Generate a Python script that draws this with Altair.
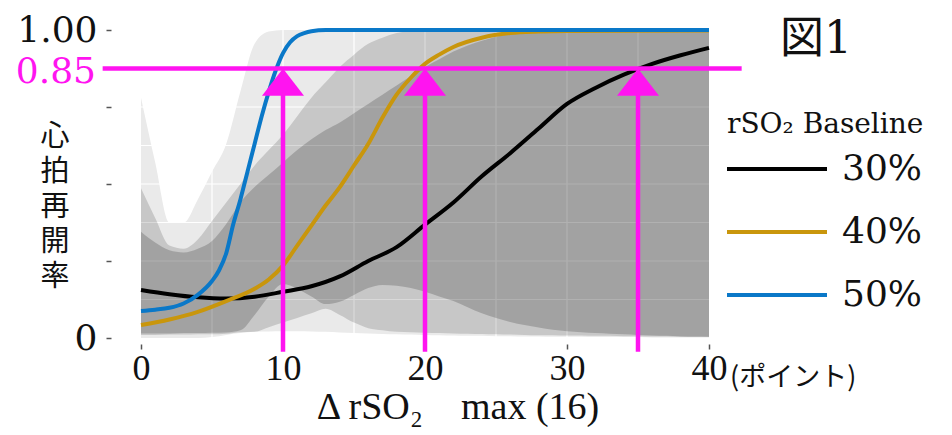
import altair as alt
import pandas as pd
import numpy as np

# ---------------- data ----------------
SERIES = ["30%", "40%", "50%"]
COLORS = ["#000000", "#C9960C", "#0A78C8"]

X_30 = [0, 2, 4, 6, 8, 10, 12, 14, 16, 18, 20, 22, 24, 26, 28, 30, 32, 34, 36, 38, 40]
Y_30 = [0.156, 0.142, 0.132, 0.128, 0.134, 0.150, 0.168, 0.200, 0.250, 0.295, 0.368, 0.440, 0.525,
        0.600, 0.680, 0.760, 0.812, 0.855, 0.890, 0.918, 0.942]
X_40 = [0, 2, 4, 6, 8, 9, 10, 11, 12, 13, 14, 15, 16, 17, 18, 19, 20, 21, 22, 24, 26, 28, 30, 40]
Y_40 = [0.042, 0.060, 0.085, 0.120, 0.160, 0.190, 0.235, 0.300, 0.365, 0.430, 0.490, 0.560, 0.630,
        0.715, 0.790, 0.845, 0.890, 0.920, 0.945, 0.975, 0.990, 0.995, 0.997, 0.998]
X_50 = [0, 1, 2, 3, 4, 5, 5.5, 6, 6.5, 7, 7.5, 8, 8.5, 9, 9.5, 10, 10.5, 11, 11.5, 12, 13, 14, 20, 30, 40]
Y_50 = [0.088, 0.092, 0.098, 0.112, 0.140, 0.185, 0.220, 0.275, 0.370, 0.450, 0.540, 0.630, 0.720,
        0.800, 0.870, 0.925, 0.960, 0.980, 0.990, 0.996, 1.0, 1.0, 1.0, 1.0, 1.0]

# confidence bands, read at x = 0..40
X_BAND = [0, 1, 2, 3, 4, 5, 6, 7, 8, 9, 10, 11, 12, 13, 14, 15, 16, 17, 18, 19, 20,
          21, 22, 23, 24, 25, 26, 27, 28, 29, 30, 31, 32, 33, 34, 35, 36, 37, 38, 39, 40]
UB_50 = [0.78, 0.57, 0.375, 0.375, 0.45, 0.54, 0.63, 0.80, 0.955, 0.995, 1.0, 1.0, 1.0, 1.0, 1.0, 1.0,
         1.0, 1.0, 1.0, 1.0, 1.0, 1.0, 1.0, 1.0, 1.0, 1.0, 1.0, 1.0, 1.0, 1.0, 1.0, 1.0, 1.0, 1.0, 1.0,
         1.0, 1.0, 1.0, 1.0, 1.0, 1.0]
LB_50 = [0.0, 0.0, 0.0, 0.0, 0.0, 0.003, 0.01, 0.025, 0.075, 0.135, 0.175, 0.16, 0.135, 0.11, 0.075,
         0.05, 0.032, 0.025, 0.02, 0.019, 0.017, 0.016, 0.015, 0.014, 0.013, 0.012, 0.011, 0.010, 0.009,
         0.009, 0.008, 0.008, 0.007, 0.007, 0.006, 0.006, 0.005, 0.005, 0.004, 0.004, 0.004]
UB_40 = [0.486, 0.39, 0.30, 0.29, 0.32, 0.38, 0.44, 0.50, 0.56, 0.61, 0.66, 0.72, 0.78, 0.83, 0.88, 0.92,
         0.955, 0.975, 0.99, 0.997, 1.0, 1.0, 1.0, 1.0, 1.0, 1.0, 1.0, 1.0, 1.0, 1.0, 1.0, 1.0, 1.0, 1.0,
         1.0, 1.0, 1.0, 1.0, 1.0, 1.0, 1.0]
LB_40 = [0.01, 0.01, 0.011, 0.011, 0.012, 0.012, 0.014, 0.016, 0.02, 0.035, 0.05, 0.065, 0.08, 0.095,
         0.118, 0.14, 0.162, 0.172, 0.17, 0.162, 0.15, 0.135, 0.12, 0.10, 0.08, 0.065, 0.052, 0.042,
         0.034, 0.027, 0.022, 0.019, 0.016, 0.014, 0.012, 0.01, 0.008, 0.007, 0.005, 0.004, 0.003]
UB_30 = [0.345, 0.31, 0.285, 0.278, 0.29, 0.315, 0.37, 0.44, 0.49, 0.53, 0.57, 0.61, 0.645, 0.675, 0.70,
         0.73, 0.76, 0.79, 0.82, 0.85, 0.88, 0.905, 0.93, 0.95, 0.965, 0.978, 0.988, 0.995, 1.0, 1.0,
         1.0, 1.0, 1.0, 1.0, 1.0, 1.0, 1.0, 1.0, 1.0, 1.0, 1.0]
LB_30 = [0.015, 0.015, 0.015, 0.016, 0.016, 0.017, 0.018, 0.019, 0.02, 0.021, 0.022, 0.022, 0.021,
         0.02, 0.018, 0.016, 0.015, 0.013, 0.012, 0.011, 0.01, 0.009, 0.008, 0.007, 0.007, 0.006,
         0.006, 0.005, 0.005, 0.004, 0.004, 0.004, 0.003, 0.003, 0.003, 0.003, 0.002, 0.002, 0.002,
         0.002, 0.002]

THRESHOLD_LABEL = "0.85"
THRESHOLD_Y = 0.875          # where the magenta line is drawn in the picture
ARROW_X = [10, 20, 35]
X_TICKS = [0, 10, 20, 30, 40]
Y_TICKS = [0, 0.25, 0.5, 0.75, 1.0]
GRID_X = [5, 10, 15, 20, 25, 30, 35]
GRID_Y = [0.125, 0.25, 0.375, 0.5, 0.625, 0.75, 0.875]
Y_TITLE = ["心", "拍", "再", "開", "率"]

# ---------------- derived tables ----------------
lbs = np.sort(np.vstack([LB_30, LB_40, LB_50]), axis=0)
ubs = np.sort(np.vstack([UB_30, UB_40, UB_50]), axis=0)
bands = pd.DataFrame({
    "x": X_BAND,
    "lo1": lbs[0], "hi1": ubs[2],   # covered by >= 1 band
    "lo2": lbs[1], "hi2": ubs[1],   # covered by >= 2 bands
    "lo3": lbs[2], "hi3": ubs[0],   # covered by all 3 bands
})

lines = pd.concat([
    pd.DataFrame({"x": X_30, "y": Y_30, "s": SERIES[0]}),
    pd.DataFrame({"x": X_40, "y": Y_40, "s": SERIES[1]}),
    pd.DataFrame({"x": X_50, "y": Y_50, "s": SERIES[2]}),
])

MAG = "#FF14F0"
XS = alt.Scale(domain=[0, 40], nice=False, zero=False)
YS = alt.Scale(domain=[0, 1], nice=False, zero=False)
XAX = alt.Axis(values=X_TICKS, format="d", title=None, grid=False, domain=False,
               labelFont="Liberation Serif", labelFontSize=36, labelColor="#111",
               tickSize=5, tickColor="#555", tickWidth=1.5, offset=6, labelPadding=2,
               labelFlush=False)
YAX = alt.Axis(values=Y_TICKS, title=None, grid=False, domain=False,
               labelExpr="datum.value == 1 ? '1.00' : (datum.value == 0 ? '0' : '')",
               labelFont="DejaVu Serif", labelFontSize=36, labelColor="#111",
               tickSize=5, tickColor="#555", tickWidth=1.5, offset=30, labelPadding=9,
               labelFlush=False)


def X(f):
    return alt.X(f, type="quantitative", scale=XS, axis=XAX)


def Y(f):
    return alt.Y(f, type="quantitative", scale=YS, axis=YAX)


band_base = alt.Chart(bands)
light = band_base.mark_area(interpolate="monotone", color="#EAEAEA").encode(
    x=X("x"), y=Y("lo1"), y2="hi1")
medium = band_base.mark_area(interpolate="monotone", color="#000000", opacity=0.15).encode(
    x=X("x"), y=Y("lo2"), y2="hi2")
dark = band_base.mark_area(interpolate="monotone", color="#000000", opacity=0.185).encode(
    x=X("x"), y=Y("lo3"), y2="hi3")

gx = alt.Chart(pd.DataFrame({"gx": GRID_X, "y0": 0.0, "y1": 1.0})).mark_rule(
    color="white", strokeWidth=1.2).encode(x=X("gx"), y=Y("y0"), y2="y1")
gy = alt.Chart(pd.DataFrame({"gy": GRID_Y, "x0": 0.0, "x1": 40.0})).mark_rule(
    color="white", strokeWidth=1.2).encode(y=Y("gy"), x=X("x0"), x2="x1")

curves = alt.Chart(lines).mark_line(interpolate="monotone", strokeWidth=4).encode(
    x=X("x"), y=Y("y"),
    color=alt.Color("s:N", scale=alt.Scale(domain=SERIES, range=COLORS), legend=None),
    order=alt.value(0),
)

hline = alt.Chart(pd.DataFrame({"x0": [-2.7], "x1": [42.3], "y": [THRESHOLD_Y]})).mark_rule(
    color=MAG, strokeWidth=4.5).encode(x=X("x0"), x2="x1", y=Y("y"))

arrows = pd.DataFrame({"x": ARROW_X, "y0": -0.045, "y1": THRESHOLD_Y - 0.06, "yh": THRESHOLD_Y})
shafts = alt.Chart(arrows).mark_rule(color=MAG, strokeWidth=4.5).encode(
    x=X("x"), y=Y("y0"), y2="y1")
heads = alt.Chart(arrows).mark_point(
    shape="M0,0L1,1.3L-1,1.3Z", filled=True, fill=MAG, opacity=1, strokeWidth=0, size=1764
).encode(x=X("x"), y=Y("yh"))

one = pd.DataFrame({"a": [0]})


def txt(text, x, y, size, font, color="#111", align="left", baseline="middle", **kw):
    return alt.Chart(one).mark_text(text=text, fontSize=size, font=font, color=color,
                                    align=align, baseline=baseline, **kw).encode(
        x=alt.value(x), y=alt.value(y))


SERIF = "DejaVu Serif, Noto Sans CJK JP"
texts = [
    txt(THRESHOLD_LABEL, -45, 42, 36, SERIF, color=MAG, align="right"),
    txt("図1", 639, 10, 44, SERIF),
    txt("(ポイント)", 589, 348, 27, "Noto Sans CJK JP"),
    txt("Δ rSO₂　max (16)", 317, 389, 38, "Liberation Serif, Noto Sans CJK JP", align="center",
        baseline="alphabetic"),
    txt("rSO₂  Baseline", 586, 95, 28, SERIF),
]
# vertical y-axis title, one character per line
for i, ch in enumerate(Y_TITLE):
    texts.append(txt(ch, -86, 107 + 35 * i, 29, "DejaVu Sans, Noto Sans CJK JP", align="center"))

LEG_Y = [139, 202, 265]
legend = []
for lab, col, ly in zip(SERIES, COLORS, LEG_Y):
    legend.append(alt.Chart(one).mark_rule(color=col, strokeWidth=4).encode(
        x=alt.value(586), x2=alt.value(686), y=alt.value(ly)))
    legend.append(txt(lab, 701, ly, 36, SERIF))

chart = alt.layer(light, gx, gy, medium, dark, curves, hline, shafts, heads, *texts, *legend).properties(
    width=568, height=308,
    padding={"left": 133, "top": 22, "right": 235, "bottom": 89},
    autosize=alt.AutoSizeParams(type="none"),
    background="white",
).configure_view(stroke=None)

chart.save("out.html", embed_options={"renderer": "svg", "actions": False})
